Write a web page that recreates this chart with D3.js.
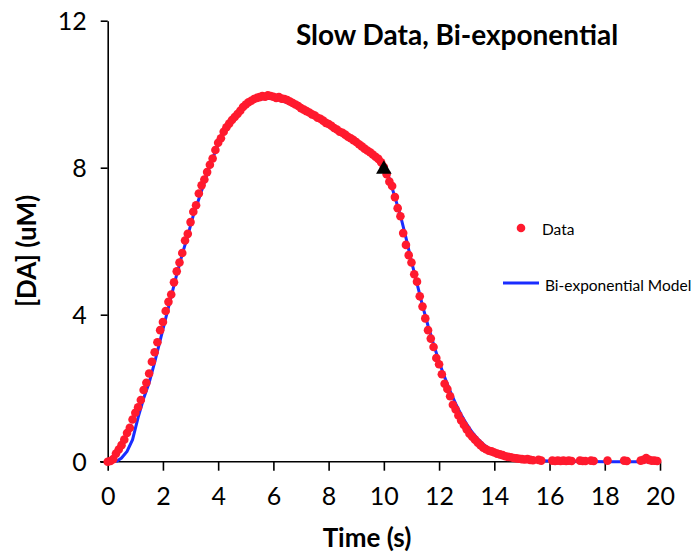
<!DOCTYPE html>
<html>
<head>
<meta charset="utf-8">
<script src="https://cdn.jsdelivr.net/npm/d3@7"></script>
<style>
  body { margin: 0; background: #fff; }
  svg { display: block; font-family: Lato, "Open Sans", sans-serif; }
</style>
</head>
<body>
<svg id="chart" width="693" height="555"></svg>
<script>
// measured data (time in s, [DA] in uM)
var dataTime = [
  0.0, 0.1, 0.2, 0.3, 0.4, 0.5, 0.6, 0.7, 0.8, 0.9,
  1.0, 1.1, 1.2, 1.3, 1.4, 1.5, 1.6, 1.7, 1.8, 1.9,
  2.0, 2.1, 2.2, 2.3, 2.4, 2.5, 2.6, 2.7, 2.8, 2.9,
  3.0, 3.1, 3.2, 3.3, 3.4, 3.5, 3.6, 3.7, 3.8, 3.9,
  4.0, 4.1, 4.2, 4.3, 4.4, 4.5, 4.6, 4.7, 4.8, 4.9,
  5.0, 5.1, 5.2, 5.3, 5.4, 5.5, 5.6, 5.7, 5.8, 5.9,
  6.0, 6.1, 6.2, 6.3, 6.4, 6.5, 6.6, 6.7, 6.8, 6.9,
  7.0, 7.1, 7.2, 7.3, 7.4, 7.5, 7.6, 7.7, 7.8, 7.9,
  8.0, 8.1, 8.2, 8.3, 8.4, 8.5, 8.6, 8.7, 8.8, 8.9,
  9.0, 9.1, 9.2, 9.3, 9.4, 9.5, 9.6, 9.7, 9.8, 9.9,
  10.0, 10.1, 10.2, 10.3, 10.4, 10.5, 10.6, 10.7, 10.8, 10.9,
  11.0, 11.1, 11.2, 11.3, 11.4, 11.5, 11.6, 11.7, 11.8, 11.9,
  12.0, 12.1, 12.2, 12.3, 12.4, 12.5, 12.6, 12.7, 12.8, 12.9,
  13.0, 13.1, 13.2, 13.3, 13.4, 13.5, 13.6, 13.7, 13.8, 13.9,
  14.0, 14.1, 14.2, 14.3, 14.4, 14.5, 14.6, 14.7, 14.8, 14.9,
  15.0, 15.1, 15.2, 15.3, 15.4, 15.6, 15.7, 16.1, 16.2, 16.3,
  16.4, 16.5, 16.6, 16.7, 16.8, 17.1, 17.2, 17.3, 17.5, 17.6,
  18.1, 18.7, 18.8, 19.3, 19.4, 19.5, 19.6, 19.7, 19.8, 19.9
];
var dataDA = [
  0.00, 0.02, 0.07, 0.22, 0.33, 0.45, 0.60, 0.78, 0.92, 1.15,
  1.33, 1.48, 1.68, 1.95, 2.15, 2.40, 2.72, 2.98, 3.25, 3.58,
  3.80, 4.10, 4.35, 4.55, 4.88, 5.18, 5.42, 5.68, 6.02, 6.20,
  6.52, 6.80, 6.98, 7.30, 7.52, 7.68, 7.88, 8.08, 8.25, 8.48,
  8.68, 8.80, 8.98, 9.10, 9.20, 9.30, 9.38, 9.46, 9.55, 9.65,
  9.72, 9.78, 9.82, 9.87, 9.90, 9.92, 9.95, 9.93, 9.97, 9.95,
  9.93, 9.90, 9.92, 9.88, 9.87, 9.84, 9.80, 9.76, 9.72, 9.68,
  9.62, 9.58, 9.54, 9.50, 9.45, 9.42, 9.36, 9.33, 9.28, 9.22,
  9.19, 9.14, 9.08, 9.04, 8.98, 8.95, 8.90, 8.84, 8.80, 8.75,
  8.70, 8.64, 8.58, 8.52, 8.47, 8.42, 8.36, 8.30, 8.24, 8.15,
  8.02, 7.82, 7.62, 7.50, 7.20, 6.90, 6.68, 6.22, 5.90, 5.62,
  5.42, 5.10, 4.90, 4.50, 4.22, 3.90, 3.58, 3.35, 3.12, 2.82,
  2.65, 2.38, 2.12, 1.98, 1.78, 1.55, 1.42, 1.26, 1.12, 1.00,
  0.88, 0.76, 0.68, 0.60, 0.52, 0.45, 0.38, 0.34, 0.30, 0.28,
  0.25, 0.22, 0.20, 0.18, 0.15, 0.13, 0.12, 0.10, 0.09, 0.08,
  0.07, 0.06, 0.07, 0.05, 0.04, 0.05, 0.03, 0.03, 0.02, 0.03,
  0.02, 0.03, 0.02, 0.03, 0.02, 0.03, 0.02, 0.02, 0.03, 0.02,
  0.03, 0.03, 0.02, 0.03, 0.05, 0.10, 0.05, 0.03, 0.03, 0.02
];

// bi-exponential model curve
var modelTime = [
  0.3, 0.5, 0.7, 0.9, 1.1, 1.3, 1.5, 1.7, 1.9, 2.1,
  2.3, 2.5, 2.7, 2.9, 3.1, 3.3, 3.5, 3.7, 3.9, 4.1,
  4.3, 4.5, 4.7, 4.9, 5.1, 5.3, 5.5, 5.7, 5.9, 6.1,
  6.3, 6.5, 6.7, 7.0, 7.5, 8.0, 8.5, 9.0, 9.5, 9.8,
  10.0, 10.2, 10.4, 10.6, 10.8, 11.0, 11.2, 11.4, 11.6, 11.8,
  12.0, 12.2, 12.4, 12.6, 12.8, 13.0, 13.2, 13.4, 13.6, 13.8,
  14.0, 14.3, 14.6, 15.0, 15.5, 16.0, 17.0, 18.0, 20.0
];
var modelDA = [
  0.00, 0.10, 0.28, 0.60, 1.20, 1.72, 2.15, 2.70, 3.30, 3.90,
  4.50, 5.10, 5.65, 6.15, 6.70, 7.15, 7.60, 8.05, 8.45, 8.80,
  9.08, 9.30, 9.48, 9.62, 9.73, 9.81, 9.86, 9.88, 9.88, 9.86,
  9.82, 9.77, 9.70, 9.58, 9.40, 9.18, 8.95, 8.70, 8.42, 8.25,
  8.10, 7.70, 7.20, 6.70, 6.10, 5.45, 4.85, 4.25, 3.70, 3.20,
  2.72, 2.30, 1.92, 1.58, 1.28, 1.02, 0.80, 0.62, 0.48, 0.36,
  0.27, 0.18, 0.11, 0.06, 0.03, 0.02, 0.01, 0.00, 0.00
];

// marker point
var markerTime = [10];
var markerDA = [8];

var xTicks = [0, 2, 4, 6, 8, 10, 12, 14, 16, 18, 20];
var yTicks = [0, 4, 8, 12];

var svg = d3.select("#chart");
var red = "#ff1a2e", blue = "#1a2cff";

var x = d3.scaleLinear().domain([0, 20]).range([107.7, 660]);
var y = d3.scaleLinear().domain([0, 12]).range([461.7, 20.7]);

// axes
var xAxis = svg.append("g")
  .attr("transform", "translate(0," + y(0) + ")")
  .call(d3.axisBottom(x).tickValues(xTicks).tickSize(9).tickSizeOuter(0).tickPadding(12));
var yAxis = svg.append("g")
  .attr("transform", "translate(" + x(0) + ",0)")
  .call(d3.axisLeft(y).tickValues(yTicks).tickSize(7).tickSizeOuter(0).tickPadding(14));

[xAxis, yAxis].forEach(function (g) {
  g.select(".domain").attr("stroke", "#000").attr("stroke-width", 1.6);
  g.selectAll(".tick line").attr("stroke", "#000").attr("stroke-width", 1.6);
  g.selectAll(".tick text")
    .attr("fill", "#000")
    .style("font-family", "Lato, sans-serif")
    .style("font-size", "25px");
});
xAxis.select(".domain").attr("d", "M100,0H" + x(20));
xAxis.selectAll(".tick text").attr("dy", "0.9em");
yAxis.selectAll(".tick text").attr("dy", "0.36em");

// model line
var modelPts = modelTime.map(function (t, i) { return [t, modelDA[i]]; });
svg.append("path")
  .datum(modelPts)
  .attr("fill", "none")
  .attr("stroke", blue)
  .attr("stroke-width", 3)
  .attr("d", d3.line().x(function (d) { return x(d[0]); }).y(function (d) { return y(d[1]); }));

// data points
var dataPts = dataTime.map(function (t, i) { return [t, dataDA[i]]; });
svg.append("g").selectAll("circle")
  .data(dataPts)
  .join("circle")
  .attr("cx", function (d) { return x(d[0]); })
  .attr("cy", function (d) { return y(d[1]); })
  .attr("r", 4.3)
  .attr("fill", red);

// triangle marker
svg.append("g").selectAll("path")
  .data(markerTime.map(function (t, i) { return [t, markerDA[i]]; }))
  .join("path")
  .attr("transform", function (d) { return "translate(" + x(d[0]) + "," + (y(d[1]) + 1.5) + ")"; })
  .attr("d", d3.symbol().type(d3.symbolTriangle).size(105))
  .attr("fill", "#000");

// title + axis labels
svg.append("text")
  .attr("x", 457).attr("y", 45)
  .attr("text-anchor", "middle")
  .style("font-weight", "bold").style("font-size", "28px")
  .text("Slow Data, Bi-exponential");

svg.append("text")
  .attr("x", 367).attr("y", 547)
  .attr("text-anchor", "middle")
  .style("font-weight", "bold").style("font-size", "26px")
  .text("Time (s)");

svg.append("text")
  .attr("transform", "translate(36,251) rotate(-90)")
  .attr("text-anchor", "middle")
  .style("font-weight", "bold").style("font-size", "26px")
  .text("[DA] (uM)");

// legend
var legend = svg.append("g");
legend.append("circle").attr("cx", 521).attr("cy", 228).attr("r", 4.3).attr("fill", red);
legend.append("text").attr("x", 542).attr("y", 235).style("font-size", "15.5px").text("Data");
legend.append("line").attr("x1", 503).attr("x2", 539).attr("y1", 283).attr("y2", 283)
  .attr("stroke", blue).attr("stroke-width", 3);
legend.append("text").attr("x", 545).attr("y", 291).style("font-size", "15.5px").text("Bi-exponential Model");
</script>
</body>
</html>
